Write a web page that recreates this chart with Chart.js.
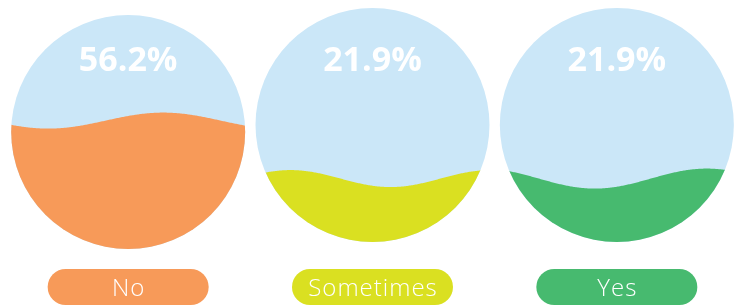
<!DOCTYPE html>
<html>
<head>
<meta charset="utf-8">
<script src="https://cdn.jsdelivr.net/npm/chart.js@4"></script>
<style>
  html, body { margin: 0; background: #fff; }
  #wrap { width: 741px; height: 307px; }
</style>
</head>
<body>
<div id="wrap"><canvas id="chart"></canvas></div>
<script>
const categories = ['No', 'Sometimes', 'Yes'];
const percentages = [56.2, 21.9, 21.9];

const fillColors = ['#F79A59', '#DAE021', '#47BA6F'];
const bubbleColor = '#CBE7F8';
// wave look for each bubble: trough offset from centre, half wavelength, amplitude (px)
const waveShapes = [
  { trough: -80, half: 115, amp: 8 },
  { trough: 18, half: 100, amp: 8.5 },
  { trough: -22, half: 112, amp: 10 }
];
// first bubble sits a little lower than the other two
const bubbleDrop = [7, 0, 0];

// height of a circle segment that holds fraction f of the area (as part of the diameter)
function levelFromArea(f) {
  let lo = 0, hi = 2 * Math.PI;
  for (let k = 0; k < 60; k++) {
    const mid = (lo + hi) / 2;
    if (mid - Math.sin(mid) < 2 * Math.PI * f) lo = mid; else hi = mid;
  }
  const t = (lo + hi) / 2;
  return (1 - Math.cos(t / 2)) / 2;
}

const liquidPlugin = {
  id: 'liquid',
  afterDatasetsDraw(chart) {
    const { ctx, chartArea, scales: { x, y } } = chart;
    const top = y.getPixelForValue(100);
    const bottom = y.getPixelForValue(0);
    const r = (bottom - top) / 2;

    categories.forEach((cat, i) => {
      const cx = x.getPixelForValue(i);
      const cy = (top + bottom) / 2 + bubbleDrop[i];
      const level = y.getPixelForValue(levelFromArea(percentages[i] / 100) * 100) + bubbleDrop[i];
      const w = waveShapes[i];

      ctx.save();
      ctx.beginPath();
      ctx.arc(cx, cy, r, 0, Math.PI * 2);
      ctx.fillStyle = bubbleColor;
      ctx.fill();
      ctx.clip();
      ctx.beginPath();
      ctx.moveTo(cx - r - 2, cy + r + 2);
      for (let px = cx - r - 2; px <= cx + r + 2; px += 1) {
        ctx.lineTo(px, level + w.amp * Math.cos(Math.PI * (px - cx - w.trough) / w.half));
      }
      ctx.lineTo(cx + r + 2, cy + r + 2);
      ctx.closePath();
      ctx.fillStyle = fillColors[i];
      ctx.fill();
      ctx.restore();

      // percentage on top of the bubble
      ctx.save();
      ctx.fillStyle = '#ffffff';
      ctx.font = '700 34px "Open Sans"';
      ctx.textAlign = 'center';
      ctx.textBaseline = 'alphabetic';
      ctx.fillText(percentages[i].toFixed(1) + '%', cx, chartArea.top + 63);
      ctx.restore();

      // pill label under the bubble
      const pw = 161, ph = 36;
      const pTop = chartArea.bottom + 27;
      ctx.save();
      ctx.beginPath();
      ctx.roundRect(cx - pw / 2, pTop, pw, ph, ph / 2);
      ctx.fillStyle = fillColors[i];
      ctx.fill();
      ctx.fillStyle = '#ffffff';
      ctx.font = '300 24px "Open Sans"';
      ctx.letterSpacing = '1px';
      ctx.textAlign = 'center';
      ctx.fillText(cat, cx + 0.5, pTop + 27);
      ctx.restore();
    });
  }
};

new Chart(document.getElementById('chart'), {
  type: 'bar',
  data: {
    labels: categories,
    datasets: [{ data: percentages, backgroundColor: 'rgba(0,0,0,0)' }]
  },
  options: {
    responsive: true,
    maintainAspectRatio: false,
    animation: false,
    layout: { padding: { left: 6, right: 2, top: 8, bottom: 65 } },
    plugins: { legend: { display: false }, tooltip: { enabled: false } },
    scales: {
      x: { display: false },
      y: { display: false, min: 0, max: 100 }
    }
  },
  plugins: [liquidPlugin]
});
</script>
</body>
</html>
